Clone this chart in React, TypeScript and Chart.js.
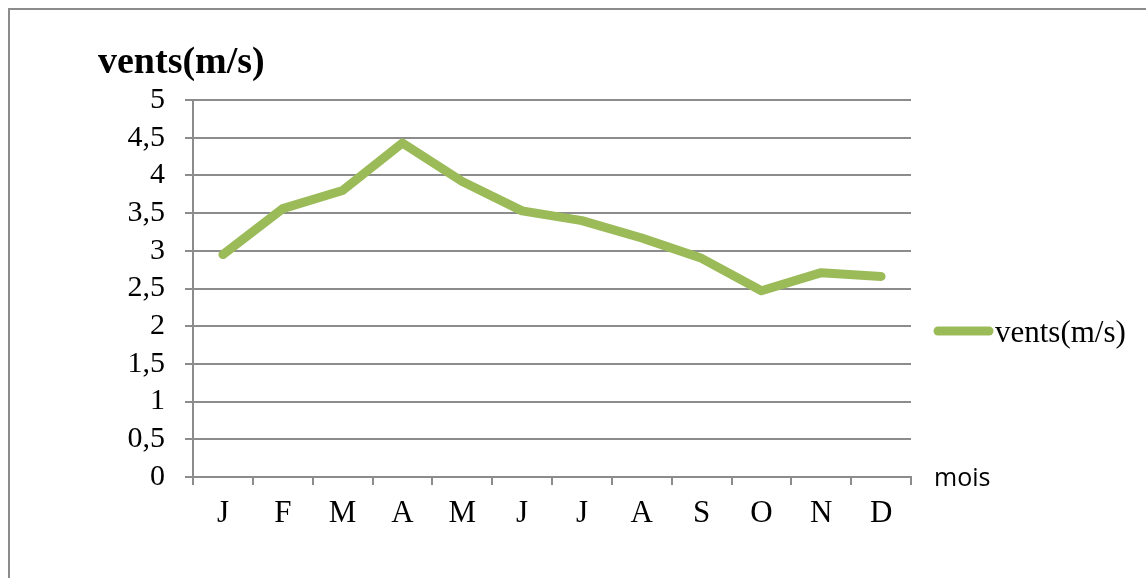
import React, { useEffect, useRef } from "react";
import { Chart, registerables } from "chart.js";

Chart.register(...registerables);

const months: string[] = ["J", "F", "M", "A", "M", "J", "J", "A", "S", "O", "N", "D"];
const windSpeed: number[] = [2.95, 3.56, 3.8, 4.43, 3.92, 3.53, 3.4, 3.17, 2.9, 2.47, 2.71, 2.66];
const seriesLabel = "vents(m/s)";
const yAxisTitle = "vents(m/s)";
const xAxisTitle = "mois";
const yMin = 0;
const yMax = 5;
const yStep = 0.5;

const GRID = "#8c8c8c";
const LINE = "#9BBB59";
const SERIF = "'Liberation Serif', 'Times New Roman', serif";

// Frame, axis titles and the side legend are painted on top of the chart.
const decorations = {
  id: "decorations",
  afterDraw(chart: Chart) {
    const { ctx, chartArea } = chart;
    ctx.save();
    // outer frame (left and top edges visible)
    ctx.strokeStyle = GRID;
    ctx.lineWidth = 2;
    ctx.beginPath();
    ctx.moveTo(9, chart.height);
    ctx.lineTo(9, 9);
    ctx.lineTo(chart.width, 9);
    ctx.stroke();

    // value axis title above the plot
    ctx.fillStyle = "#000";
    ctx.font = `bold 38px ${SERIF}`;
    ctx.textAlign = "left";
    ctx.textBaseline = "alphabetic";
    ctx.fillText(yAxisTitle, chartArea.left - 95, chartArea.top - 27);

    // category axis title at the right end of the axis
    ctx.font = "25px 'Open Sans', sans-serif";
    ctx.fillText(xAxisTitle, chartArea.right + 23, chartArea.bottom + 9);

    // legend
    const ds = chart.data.datasets[0] as any;
    const ly = chartArea.top + 231;
    const lx = chartArea.right + 27;
    ctx.strokeStyle = ds.borderColor;
    ctx.lineWidth = 9;
    ctx.lineCap = "round";
    ctx.beginPath();
    ctx.moveTo(lx, ly);
    ctx.lineTo(lx + 51, ly);
    ctx.stroke();
    ctx.font = `31px ${SERIF}`;
    ctx.fillText(ds.label, lx + 57, ly + 11);
    ctx.restore();
  },
};

export default function App() {
  const ref = useRef<HTMLCanvasElement | null>(null);

  useEffect(() => {
    if (!ref.current) return;
    const chart = new Chart(ref.current, {
      type: "line",
      data: {
        labels: months,
        datasets: [
          {
            label: seriesLabel,
            data: windSpeed,
            borderColor: LINE,
            backgroundColor: LINE,
            borderWidth: 9,
            borderCapStyle: "round",
            borderJoinStyle: "round",
            pointRadius: 0,
            pointHoverRadius: 0,
            tension: 0,
            fill: false,
          },
        ],
      },
      options: {
        responsive: false,
        animation: false,
        events: [],
        layout: { padding: { top: 100, right: 235, bottom: 0, left: 0 } },
        plugins: {
          legend: { display: false },
          title: { display: false },
          tooltip: { enabled: false },
        },
        scales: {
          x: {
            type: "category",
            offset: true,
            afterFit: (scale: any) => {
              scale.height = 101;
            },
            grid: {
              offset: true,
              drawOnChartArea: false,
              drawTicks: true,
              tickLength: 8,
              color: GRID,
              lineWidth: 2,
            },
            border: { display: true, color: GRID, width: 2 },
            ticks: {
              color: "#000",
              font: { family: SERIF, size: 31 },
              padding: 10,
              maxRotation: 0,
              autoSkip: false,
            },
          },
          y: {
            min: yMin,
            max: yMax,
            afterFit: (scale: any) => {
              scale.width = 193;
            },
            grid: {
              color: GRID,
              lineWidth: 2,
              drawTicks: true,
              tickLength: 8,
            },
            border: { display: true, color: GRID, width: 2 },
            ticks: {
              stepSize: yStep,
              autoSkip: false,
              color: "#000",
              font: { family: SERIF, size: 30 },
              padding: 20,
              callback: (v: any) => String(v).replace(".", ","),
            },
          },
        },
      },
      plugins: [decorations],
    });
    return () => chart.destroy();
  }, []);

  return (
    <div style={{ position: "fixed", left: 0, top: 0, width: 1146, height: 578, overflow: "hidden", background: "#fff" }}>
      <canvas ref={ref} width={1146} height={578} style={{ display: "block" }} />
    </div>
  );
}
